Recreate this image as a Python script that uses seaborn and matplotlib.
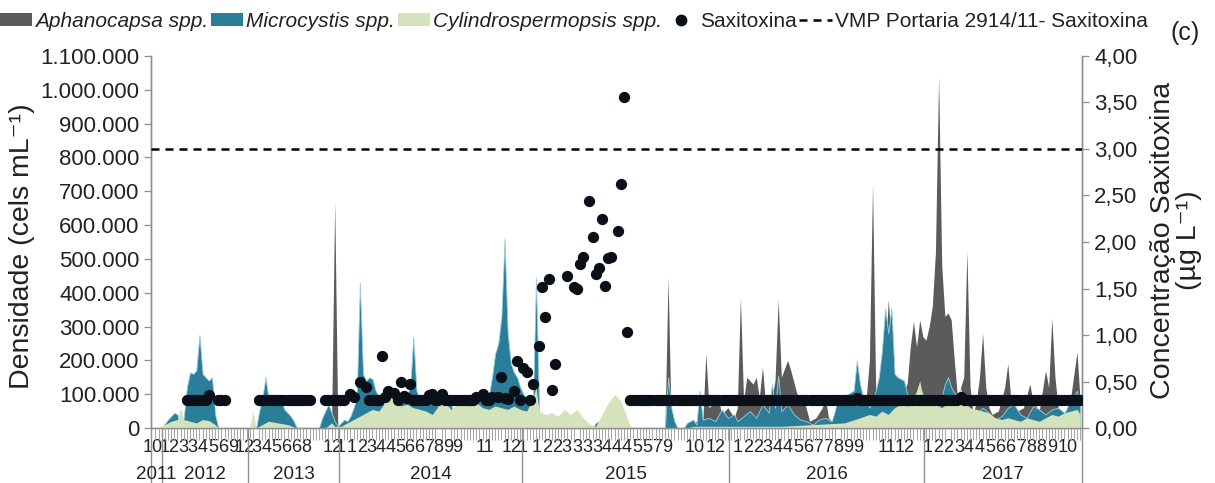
import numpy as np
import matplotlib
matplotlib.use("Agg")
import matplotlib.pyplot as plt
import matplotlib.transforms as mtransforms
from matplotlib.patches import Patch
from matplotlib.lines import Line2D
import seaborn as sns

# ---------------- data (x = sample index along the monitoring series) ----------------
# Aphanocapsa spp. density (thousand cells/mL)
aph_x = [0, 57, 58, 59, 163, 164, 165, 171, 173, 175, 176, 177, 178, 180, 181, 183, 185, 186,
         187, 188, 189, 191, 192, 193, 194, 195, 197, 198, 199, 200, 202, 203, 205, 207, 209,
         211, 213, 214, 215, 217, 219, 221, 223, 225, 227, 228, 229, 230, 232, 233, 234, 235,
         236, 238, 240, 241, 242, 243, 244, 245, 246, 247, 248, 249, 250, 251, 252, 253, 254,
         255, 256, 258, 259, 260, 261, 262, 263, 264, 265, 266, 267, 269, 271, 272, 273, 275,
         277, 279, 280, 282, 284, 285, 286, 287, 288, 290, 292, 294, 295]
aph_k = [0, 0, 670, 0, 0, 447, 0, 0, 20, 15, 220, 60, 70, 90, 40, 60, 30, 60,
         385, 80, 150, 130, 150, 90, 180, 70, 90, 140, 380, 150, 200, 170, 100, 90, 20,
         30, 60, 90, 30, 10, 0, 20, 40, 30, 90, 200, 720, 110, 90, 200, 380, 250,
         120, 100, 130, 240, 315, 240, 320, 270, 260, 300, 360, 520, 1040, 480, 330, 340, 320,
         200, 90, 150, 525, 120, 40, 80, 150, 280, 120, 60, 40, 50, 120, 190, 80, 50,
         60, 130, 80, 50, 170, 120, 325, 150, 60, 40, 90, 225, 80]

# Microcystis spp. density (thousand cells/mL)
mic_x = [0, 3, 5, 7, 8, 9, 10, 11, 12, 13, 14, 15, 16, 17, 18, 19, 20, 21,
         33, 34, 35, 36, 37, 38, 39, 40, 41, 42, 43, 44, 45, 46,
         53, 54, 55, 56, 57, 58, 59, 60, 61, 62, 63, 64, 65, 66, 67, 68, 69, 70, 71, 72, 73,
         74, 75, 76, 77, 78, 79, 80, 81, 82, 83, 84, 85, 86, 87, 88, 89, 90, 91, 92, 93, 94,
         95, 96, 97, 98, 99, 100, 101, 102, 103, 104, 105, 106, 107, 108, 109, 110, 111, 112,
         113, 114, 115, 116, 117, 118, 119, 120, 121, 122, 123, 124, 125,
         140, 141, 142, 143, 163, 164, 165, 166, 167, 169, 170, 172, 173, 174, 175, 177, 179,
         181, 183, 185, 186, 188, 190, 192, 194, 196, 197, 198, 199, 200, 202, 204, 206, 208,
         210, 212, 214, 216, 217, 218, 219, 221, 223, 224, 225, 226, 228, 230, 231, 232, 233,
         234, 235, 236, 237, 239, 240, 242, 244, 246, 248, 250, 252, 253, 254, 256, 258, 260,
         262, 264, 266, 268, 270, 272, 274, 276, 278, 280, 282, 284, 286, 288, 290, 292, 294, 295]
mic_k = [0, 0, 25, 45, 40, 10, 30, 120, 165, 160, 170, 275, 160, 150, 140, 150, 40, 0,
         0, 50, 90, 150, 85, 70, 75, 100, 80, 55, 45, 35, 20, 0,
         0, 30, 50, 70, 45, 20, 5, 15, 25, 20, 35, 60, 90, 430, 160, 140, 150, 145, 110, 95, 100,
         60, 70, 90, 80, 70, 90, 95, 100, 120, 270, 110, 90, 80, 70, 85, 100, 90, 60, 50, 80, 90,
         70, 40, 60, 80, 70, 90, 85, 70, 75, 90, 100, 85, 95, 150, 220, 250, 330, 560,
         280, 190, 165, 150, 120, 100, 90, 70, 60, 445, 50, 15, 0,
         0, 15, 20, 0, 0, 150, 60, 20, 0, 0, 15, 25, 10, 110, 25, 30, 20,
         55, 30, 40, 20, 35, 50, 30, 70, 45, 130, 60, 155, 50, 70, 40, 25, 20,
         10, 25, 30, 20, 50, 90, 80, 100, 110, 200, 130, 90, 60, 110, 150, 230, 355,
         280, 355, 160, 150, 140, 100, 90, 120, 80, 70, 55, 130, 150, 120, 90, 60, 30,
         40, 60, 45, 25, 35, 60, 70, 40, 30, 65, 55, 40, 55, 60, 45, 80, 110, 60]

# Cylindrospermopsis spp. density (thousand cells/mL)
cyl_x = [0, 2, 4, 6, 8, 9, 10, 12, 14, 16, 18, 20, 21, 31, 32, 33, 35, 37, 40, 43, 46,
         55, 57, 58, 60, 62, 64, 66, 68, 70, 72, 74, 76, 77, 79, 81, 83, 85, 87, 89, 91, 93,
         95, 97, 99, 101, 103, 105, 107, 109, 111, 113, 115, 117, 119, 121, 122, 123, 125,
         127, 129, 131, 133, 135, 137, 139, 141, 143, 145, 147, 149, 151, 152, 154,
         170, 172, 200, 210, 220, 225, 228, 230, 232, 234, 236, 238, 240, 242, 244, 245, 247,
         249, 251, 253, 255, 257, 258, 260, 262, 264, 266, 268, 270, 272, 274, 276, 278, 280,
         282, 284, 286, 288, 290, 292, 294, 295]
cyl_k = [0, 0, 10, 20, 25, 60, 25, 20, 15, 25, 22, 10, 0, 0, 50, 0, 10, 20, 15, 10, 0,
         0, 15, 5, 5, 15, 25, 35, 45, 55, 50, 75, 95, 85, 65, 70, 60, 55, 50, 40, 65, 75,
         55, 70, 80, 65, 75, 60, 55, 65, 60, 55, 65, 55, 50, 85, 120, 50, 40,
         45, 35, 55, 40, 55, 30, 12, 5, 40, 75, 100, 80, 30, 5, 0,
         0, 5, 5, 10, 15, 30, 40, 35, 50, 40, 60, 70, 65, 80, 140, 90, 85,
         70, 60, 75, 90, 120, 80, 60, 55, 50, 45, 30, 25, 30, 25, 20, 30, 25,
         20, 30, 40, 35, 45, 50, 55, 40]

# Saxitoxin (ug/L): runs of samples at the quantification limit plus individual results
sax_lq = 0.30
sax_lq_runs = [(11, 17), (21, 23), (34, 50), (55, 61), (69, 72), (83, 87), (90, 91),
               (93, 102), (106, 107), (152, 223), (225, 256), (258, 295)]
sax_x = [18, 63, 64, 66, 68, 73, 74, 75, 77, 78, 79, 80, 81, 82, 88, 89, 92, 103, 105, 108,
         110, 111, 112, 113, 115, 116, 117, 118, 119, 120, 121, 123, 124, 125, 126, 127, 128,
         132, 134, 135, 136, 137, 139, 140, 141, 142, 143, 144, 145, 146, 148, 149, 150, 151,
         224, 257]
sax_v = [0.36, 0.37, 0.33, 0.50, 0.44, 0.77, 0.33, 0.40, 0.38, 0.30, 0.49, 0.34, 0.32, 0.47,
         0.35, 0.37, 0.37, 0.33, 0.37, 0.33, 0.33, 0.55, 0.32, 0.31, 0.40, 0.72, 0.30, 0.65,
         0.60, 0.30, 0.47, 0.88, 1.52, 1.19, 1.60, 0.41, 0.69, 1.63, 1.52, 1.49, 1.76, 1.84,
         2.44, 2.05, 1.66, 1.72, 2.25, 1.53, 1.83, 1.84, 2.12, 2.62, 3.56, 1.03, 0.32, 0.33]
vmp_saxitoxin = 3.0

n_samples = 296

# Category axis labels (month of each labelled sample) and year groups
month_pos = [0, 3.8, 6.6, 9.8, 12.9, 16.1, 19.3, 22.5, 25.7, 29.5,
             33.0, 36.2, 39.3, 42.5, 45.7, 48.9, 57.2, 60.0,
             63.5, 66.6, 69.6, 72.7, 75.7, 78.8, 81.8, 84.9, 87.9, 91.0, 94.0, 97.1,
             105.8, 114.4, 117.9,
             122.3, 125.5, 128.7, 131.8, 135.0, 138.2, 141.4, 144.6, 147.7, 150.9, 154.1,
             157.3, 160.5, 163.6, 172.5, 179.2,
             186.2, 189.4, 192.6, 195.7, 198.9, 202.1, 205.3, 208.5, 211.6, 214.8, 218.0,
             221.2, 224.4, 233.6, 239.3,
             246.6, 249.8, 253.0, 256.5, 259.7, 262.9, 266.4, 269.5, 272.7, 276.2, 279.4,
             282.6, 286.1, 290.9]
month_lab = ["10", "1", "2", "3", "3", "4", "5", "6", "9", "12",
             "3", "4", "5", "6", "6", "8", "12", "1",
             "1", "2", "3", "4", "4", "5", "6", "6", "7", "8", "9", "9",
             "11", "12", "1",
             "1", "2", "2", "3", "3", "3", "3", "4", "4", "4", "5", "5", "7", "9", "10", "12",
             "1", "2", "2", "3", "4", "4", "5", "6", "7", "7", "8", "9", "9", "11", "12",
             "1", "2", "2", "3", "4", "4", "5", "6", "6", "7", "8", "8", "9", "10"]
years = ["2011", "2012", "2013", "2014", "2015", "2016", "2017"]
year_bounds = [-0.5, 3.0, 30.5, 59.5, 117.5, 183.5, 245.5, 295.5]

# ---------------- style ----------------
sns.set_theme(style="white")
plt.rcParams["font.family"] = ["Liberation Sans", "DejaVu Sans"]

c_aph = "#5b5b5b"
c_mic = "#2a7e99"
c_cyl = "#d5e3bd"
c_dot = "#0b0f18"
c_axis = "#8f8f8f"
c_txt = "#222222"

fig = plt.figure(figsize=(12.15, 4.83), dpi=100)
ax = fig.add_axes([0.12403, 0.11387, 0.76626, 0.77019])
ax2 = ax.twinx()

# Overlapping (non-stacked) areas, first series at the back
ax.fill_between(aph_x, np.array(aph_k) * 1000, 0, color=c_aph, lw=0, zorder=1)
ax.fill_between(mic_x, np.array(mic_k) * 1000, 0, facecolor=c_mic, edgecolor="#9ccfe0",
                lw=0.6, zorder=2)
ax.fill_between(cyl_x, np.array(cyl_k) * 1000, 0, color=c_cyl, lw=0, zorder=3)

# Saxitoxin points on the secondary axis
sx = []
sv = []
for a, b in sax_lq_runs:
    for i in range(a, b + 1):
        sx.append(i)
        sv.append(sax_lq)
sx += sax_x
sv += sax_v
sns.scatterplot(x=sx, y=sv, ax=ax2, s=66, color=c_dot, edgecolor=c_dot, linewidth=0,
                zorder=5, legend=False)
ax2.axhline(vmp_saxitoxin, color="black", lw=1.8, ls=(0, (3.2, 2.4)), zorder=4)

# ---------------- axes ----------------
ax.set_xlim(-0.5, n_samples - 0.5)
ax.set_ylim(0, 1_100_000)
ax2.set_ylim(0, 4)

yt = np.arange(0, 1_100_001, 100_000)
ax.set_yticks(yt)
ax.set_yticklabels([f"{v:,.0f}".replace(",", ".") for v in yt], fontsize=16)
rt = np.arange(0, 4.01, 0.5)
ax2.set_yticks(rt)
ax2.set_yticklabels([f"{v:.2f}".replace(".", ",") for v in rt], fontsize=16)

ax.set_xticks(np.arange(n_samples), minor=True)
ax.set_xticks(month_pos)
ax.set_xticklabels(month_lab, fontsize=13)
ax.tick_params(axis="x", which="major", length=0, pad=8, colors=c_txt)
ax.tick_params(axis="x", which="minor", length=8.5, width=0.7, color="#a5a5a5",
               direction="out", bottom=True)
ax.tick_params(axis="y", length=5, width=0.9, direction="out", left=True, pad=3,
               labelcolor=c_txt, color=c_axis)
ax2.tick_params(axis="y", length=5, width=0.9, direction="out", right=True, pad=4,
                labelcolor=c_txt, color=c_axis)

for a_ in (ax, ax2):
    for sp in a_.spines.values():
        sp.set_color(c_axis)
        sp.set_linewidth(1.0)
    a_.spines["top"].set_visible(False)
    a_.grid(False)

# Year grouping below the month labels
trans = mtransforms.blended_transform_factory(ax.transData, ax.transAxes)
for b in year_bounds:
    ax.plot([b, b], [0, -0.16], transform=trans, color=c_axis, lw=1.0, clip_on=False)
for i, yr in enumerate(years):
    mid = 0.5 * (year_bounds[i] + year_bounds[i + 1])
    ax.text(mid, -0.124, yr, transform=trans, ha="center", va="center", fontsize=13.5,
            color=c_txt)

# Axis titles
fig.text(22 / 1215, 1 - 246 / 483, "Densidade (cels mL⁻¹)", rotation=90, ha="center",
         va="center", fontsize=20.5, color=c_txt)
fig.text(1176 / 1215, 1 - 240 / 483, "Concentração Saxitoxina\n(µg L⁻¹)", rotation=90,
         ha="center", va="center", fontsize=20.5, color=c_txt, multialignment="center",
         linespacing=1.05)

# Legend
handles = [Patch(facecolor=c_aph, edgecolor="none"),
           Patch(facecolor=c_mic, edgecolor="none"),
           Patch(facecolor=c_cyl, edgecolor="none"),
           Line2D([], [], marker="o", ls="none", color=c_dot, ms=7.5),
           Line2D([], [], color="black", lw=1.8, ls=(0, (3.2, 2.4)))]
labels = ["Aphanocapsa spp.", "Microcystis spp.", "Cylindrospermopsis spp.", "Saxitoxina",
          "VMP Portaria 2914/11- Saxitoxina"]
leg = fig.legend(handles, labels, loc="center left", bbox_to_anchor=(0.0, 0.956), ncol=5,
                 frameon=False, fontsize=15.0, handlelength=1.55, handleheight=0.55,
                 handletextpad=0.15, columnspacing=0.12, borderaxespad=0, borderpad=0)
for t in leg.get_texts()[:3]:
    t.set_fontstyle("italic")
for t in leg.get_texts():
    t.set_color(c_txt)

fig.text(1185 / 1215, 1 - 33 / 483, "(c)", ha="center", va="center", fontsize=18,
         color=c_txt)

fig.savefig("out.png", dpi=100)
